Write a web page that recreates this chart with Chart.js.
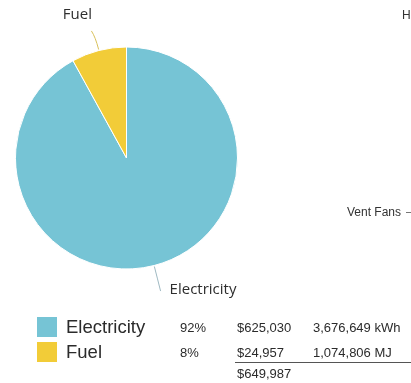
<!DOCTYPE html>
<html>
<head>
<meta charset="utf-8">
<script src="https://cdn.jsdelivr.net/npm/chart.js@4/dist/chart.umd.min.js"></script>
<style>
  html, body { margin: 0; padding: 0; background: #fff; }
  #wrap { position: relative; width: 411px; height: 383px; overflow: hidden; }
  #pie { position: absolute; left: 0; top: 0; }
  .t { position: absolute; font-family: "Liberation Sans", Arial, sans-serif; color: #2b2b2b; white-space: nowrap; line-height: 1; }
  .sw { position: absolute; width: 20px; height: 20px; }
  .name { font-size: 18.5px; }
  .num { font-size: 13px; }
  .side { font-family: "Liberation Sans", Arial, sans-serif; font-size: 12px; color: #333; }
  #rule { position: absolute; left: 235px; top: 362px; width: 176px; height: 1px; background: #555; }
</style>
</head>
<body>
<div id="wrap">
  <canvas id="pie" width="411" height="383"></canvas>
  <div id="table"></div>
  <div id="rule"></div>
  <div class="t side" style="left:402px; top:9px;">H</div>
  <div class="t side" style="left:347px; top:206px;">Vent Fans</div>
  <div style="position:absolute; left:406px; top:212px; width:5px; height:1px; background:#777;"></div>
</div>
<script>
// Energy sources, share of total
const sources = ["Electricity", "Fuel"];
const shares = [92, 8];
const shareLabels = ["92%", "8%"];
const costs = ["$625,030", "$24,957"];
const usage = ["3,676,649 kWh", "1,074,806 MJ"];
const totalCost = "$649,987";
const colors = ["#76C4D5", "#F2CC38"];

// Summary table under the pie
const table = document.getElementById("table");
const rowTop = [317, 342];
sources.forEach((name, i) => {
  const y = rowTop[i];
  table.insertAdjacentHTML("beforeend",
    `<div class="sw" style="left:37px; top:${y}px; background:${colors[i]}"></div>` +
    `<div class="t name" style="left:66px; top:${y + 1}px;">${name}</div>` +
    `<div class="t num" style="left:180px; top:${y + 4}px;">${shareLabels[i]}</div>` +
    `<div class="t num" style="left:237px; top:${y + 4}px;">${costs[i]}</div>` +
    `<div class="t num" style="left:313px; top:${y + 4}px;">${usage[i]}</div>`);
});
table.insertAdjacentHTML("beforeend",
  `<div class="t num" style="left:237px; top:367px;">${totalCost}</div>`);

// Curved leader lines with slice names
const leaderLabels = {
  id: "leaderLabels",
  afterDatasetsDraw(chart) {
    const ctx = chart.ctx;
    const arcs = chart.getDatasetMeta(0).data;
    arcs.forEach((arc, i) => {
      const p = arc.getProps(["x", "y", "startAngle", "endAngle", "outerRadius"], true);
      const mid = (p.startAngle + p.endAngle) / 2;
      const c = Math.cos(mid), s = Math.sin(mid);
      const r = p.outerRadius;
      const sx = p.x + c * (r + 1), sy = p.y + s * (r + 1);
      const mx = p.x + c * (r + 14), my = p.y + s * (r + 14);
      const below = s > 0;
      const ex = below ? mx + 3 : mx - 4;
      const ey = below ? my + 12 : my - 6;
      ctx.save();
      ctx.strokeStyle = i === 0 ? "#9fb9c2" : "#d8c05a";
      ctx.lineWidth = 1;
      ctx.beginPath();
      ctx.moveTo(sx, sy);
      ctx.quadraticCurveTo(mx, my, ex, ey);
      ctx.stroke();
      ctx.fillStyle = "#2e2e2e";
      ctx.font = '15px "Open Sans", sans-serif';
      ctx.textBaseline = "middle";
      if (!below) {
        ctx.textAlign = "center";
        ctx.fillText(sources[i], ex - 14, ey - 16);
      } else {
        ctx.textAlign = "left";
        ctx.fillText(sources[i], ex + 9, ey - 1);
      }
      ctx.restore();
    });
  }
};

new Chart(document.getElementById("pie"), {
  type: "pie",
  data: {
    labels: sources,
    datasets: [{
      data: shares,
      backgroundColor: colors,
      borderColor: "#ffffff",
      borderWidth: 1
    }]
  },
  options: {
    responsive: false,
    animation: false,
    events: [],
    layout: { padding: { left: 15, top: 46, right: 173, bottom: 113 } },
    plugins: { legend: { display: false }, tooltip: { enabled: false } }
  },
  plugins: [leaderLabels]
});
</script>
</body>
</html>
